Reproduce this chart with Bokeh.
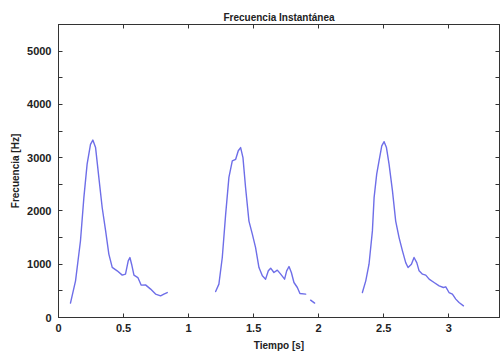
from bokeh.plotting import figure
from bokeh.models import FixedTicker, LinearAxis, CustomJSTickFormatter, Range1d
from bokeh.embed import file_html
from bokeh.resources import INLINE

# Data
seg1_t = [0.092, 0.131, 0.169, 0.195, 0.22, 0.246, 0.264, 0.285, 0.31, 0.336, 0.362, 0.387,
          0.413, 0.451, 0.49, 0.515, 0.536, 0.549, 0.562, 0.58, 0.61, 0.636, 0.669, 0.708,
          0.746, 0.785, 0.81, 0.836]
seg1_f = [270, 688, 1440, 2250, 2880, 3250, 3330, 3190, 2630, 2060, 1630, 1190,
          940, 876, 795, 814, 1064, 1126, 1000, 795, 750, 607, 613, 533,
          439, 407, 439, 469]
seg2_t = [1.208, 1.233, 1.259, 1.285, 1.31, 1.336, 1.362, 1.382, 1.4, 1.418, 1.438, 1.464,
          1.49, 1.515, 1.541, 1.567, 1.592, 1.613, 1.631, 1.656, 1.682, 1.708, 1.738, 1.754,
          1.772, 1.79, 1.81, 1.836, 1.856, 1.9]
seg2_f = [488, 626, 1126, 1940, 2630, 2940, 2970, 3130, 3190, 3000, 2440, 1810,
          1565, 1313, 938, 782, 720, 876, 926, 844, 889, 814, 720, 876,
          957, 844, 657, 563, 450, 439]
seg2b_t = [1.938, 1.969]
seg2b_f = [326, 270]
seg3_t = [2.336, 2.362, 2.387, 2.413, 2.426, 2.446, 2.464, 2.485, 2.503, 2.521, 2.541, 2.567,
          2.592, 2.618, 2.644, 2.669, 2.687, 2.713, 2.733, 2.754, 2.772, 2.798, 2.823, 2.849,
          2.887, 2.926, 2.959, 2.977, 3.002, 3.028, 3.054, 3.079, 3.113]
seg3_f = [469, 688, 1000, 1626, 2250, 2690, 2940, 3220, 3300, 3190, 2880, 2380,
          1810, 1500, 1250, 1030, 938, 1000, 1126, 1030, 876, 814, 795, 720,
          657, 594, 563, 576, 469, 439, 345, 281, 219]

x_ticks = [0, 0.5, 1, 1.5, 2, 2.5, 3]
x_tick_labels = ["0", "0.5", "1", "1.5", "2", "2.5", "3"]
y_ticks = [0, 1000, 2000, 3000, 4000, 5000]
y_minor = [500, 1500, 2500, 3500, 4500, 5500]

FONT = "Liberation Sans"
TXT = "#222222"
AX = "#333333"
LINE = "#6e6ee8"

p = figure(width=500, height=362, output_backend="svg", toolbar_location=None,
           x_range=Range1d(0, 3.39), y_range=Range1d(0, 5500),
           min_border_left=58, min_border_right=1, min_border_top=24, min_border_bottom=45,
           title="Frecuencia Instantánea")
p.title.align = "center"
p.title.text_font = FONT
p.title.text_font_size = "10px"
p.title.text_font_style = "bold"
p.title.text_color = TXT
p.title.offset = 0
p.title.standoff = 4
p.background_fill_color = "white"
p.border_fill_color = "white"
p.outline_line_color = AX
p.grid.visible = False

for seg_t, seg_f in [(seg1_t, seg1_f), (seg2_t, seg2_f), (seg2b_t, seg2b_f), (seg3_t, seg3_f)]:
    p.line(seg_t, seg_f, line_color=LINE, line_width=1.4, line_join="round", line_cap="round")

xa = p.xaxis[0]
xa.ticker = FixedTicker(ticks=x_ticks, minor_ticks=[])
xa.major_label_overrides = {t: l for t, l in zip(x_ticks, x_tick_labels)}
xa.axis_label = "Tiempo [s]"

ya = p.yaxis[0]
ya.ticker = FixedTicker(ticks=y_ticks, minor_ticks=y_minor)
ya.axis_label = "Frecuencia [Hz]"

for ax in (xa, ya):
    ax.major_tick_in = 4
    ax.major_tick_out = 0
    ax.minor_tick_in = 4
    ax.minor_tick_out = 0
    ax.axis_line_color = AX
    ax.major_tick_line_color = AX
    ax.minor_tick_line_color = AX
    ax.major_label_text_font = FONT
    ax.major_label_text_font_size = "11px"
    ax.major_label_text_font_style = "bold"
    ax.major_label_text_color = TXT
    ax.axis_label_text_font = FONT
    ax.axis_label_text_font_size = "10px"
    ax.axis_label_text_font_style = "bold"
    ax.axis_label_text_color = TXT

xa.major_label_standoff = 6
xa.axis_label_standoff = 5
ya.major_label_standoff = 7
ya.axis_label_standoff = 3

blank = CustomJSTickFormatter(code="return '';")
top = LinearAxis(ticker=FixedTicker(ticks=x_ticks, minor_ticks=[]), formatter=blank)
right = LinearAxis(ticker=FixedTicker(ticks=y_ticks, minor_ticks=y_minor), formatter=blank)
for ax in (top, right):
    ax.major_tick_in = 4
    ax.major_tick_out = 0
    ax.minor_tick_in = 4
    ax.minor_tick_out = 0
    ax.major_label_standoff = 0
    ax.major_label_text_font_size = "1px"
    ax.axis_line_color = AX
    ax.major_tick_line_color = AX
    ax.minor_tick_line_color = AX
p.add_layout(top, "above")
p.add_layout(right, "right")

open("out.html", "w").write(file_html(p, INLINE))
